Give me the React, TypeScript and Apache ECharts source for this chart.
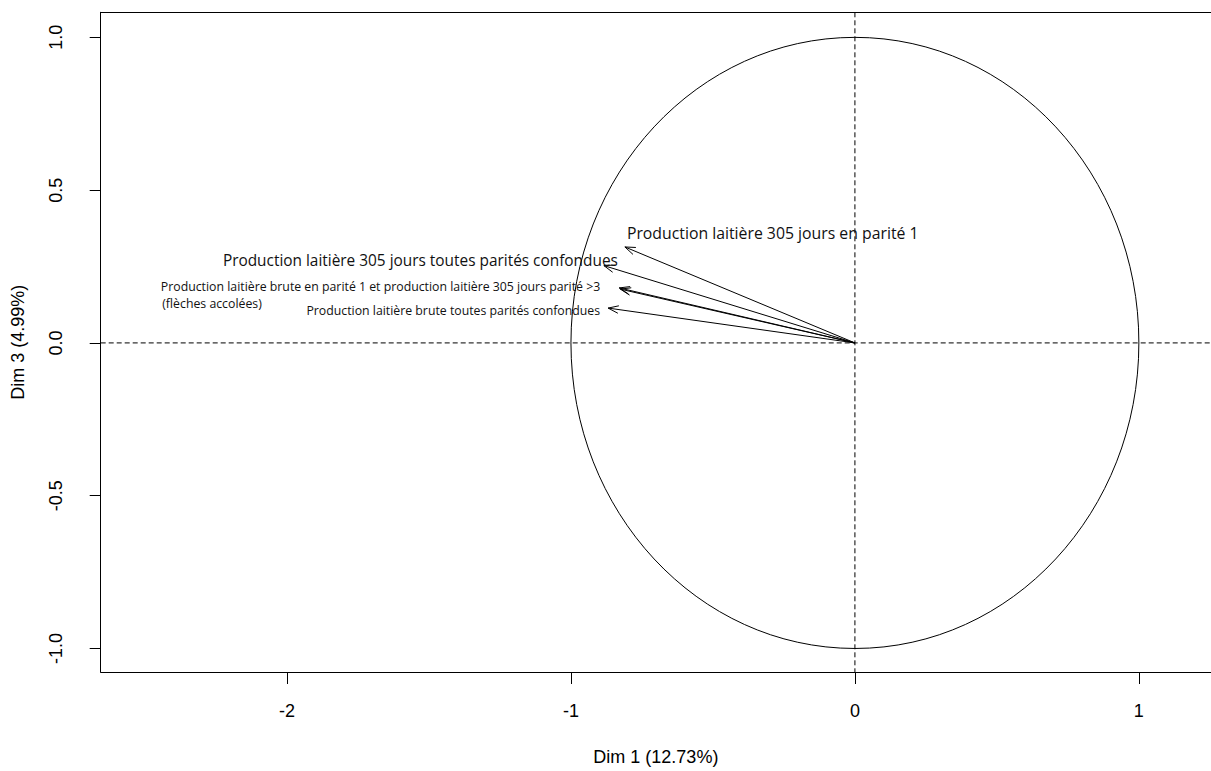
import React, { useEffect, useRef } from "react";
import * as echarts from "echarts";

// ---- data ----
const xTicks = [-2, -1, 0, 1];
const yTicks = [-1, -0.5, 0, 0.5, 1];
const xRange = [-2.656, 1.254];
const yRange = [-1.077, 1.082];

const arrowNames = [
  "Production laitière 305 jours en parité 1",
  "Production laitière 305 jours toutes parités confondues",
  "Production laitière brute en parité 1",
  "Production laitière 305 jours parité >3",
  "Production laitière brute toutes parités confondues",
];
const dim1 = [-0.81, -0.884, -0.83, -0.826, -0.869];
const dim3 = [0.314, 0.253, 0.18, 0.176, 0.114];

const labelTexts = [
  "Production laitière 305 jours en parité 1",
  "Production laitière 305 jours toutes parités confondues",
  "Production laitière brute en parité 1 et production laitière 305 jours parité >3",
  "(flèches accolées)",
  "Production laitière brute toutes parités confondues",
];
const labelArrow = [0, 1, 2, 2, 4];

const xName = "Dim 1 (12.73%)";
const yName = "Dim 3 (4.99%)";

// ---- layout (pixel offsets of labels from arrow tips) ----
const labelLayout = [
  { dx: 2, dy: -14, align: "left", size: 15.8 },
  { dx: 14, dy: -5, align: "right", size: 15.4 },
  { dx: -19, dy: -1, align: "right", size: 12.3 },
  { dx: -457, dy: 16, align: "left", size: 12.3 },
  { dx: -8, dy: 2, align: "right", size: 12.3 },
];

const AXIS_FONT = "'Liberation Sans', Arial, sans-serif";
const LABEL_FONT = "'Open Sans', sans-serif";

export default function App() {
  const ref = useRef<HTMLDivElement>(null);
  useEffect(() => {
    if (!ref.current) return;
    const chart = echarts.init(ref.current, null, { renderer: "svg" });
    const axisCommon = {
      axisLine: { show: true, onZero: false, lineStyle: { color: "#000", width: 1 } },
      splitLine: { show: false },
    };
    const option: any = {
      animation: false,
      backgroundColor: "#fff",
      grid: { left: 100.7, right: 0, top: 12.3, bottom: 98.5, containLabel: false },
      xAxis: [
        {
          type: "value",
          min: xRange[0],
          max: xRange[1],
          position: "bottom",
          ...axisCommon,
          axisTick: { show: true, customValues: xTicks, length: 12, lineStyle: { color: "#000" } },
          axisLabel: {
            customValues: xTicks,
            margin: 30,
            color: "#000",
            fontFamily: AXIS_FONT,
            fontSize: 18,
            formatter: (v: number) => String(v),
          },
          name: xName,
          nameLocation: "middle",
          nameGap: 76,
          nameTextStyle: { color: "#000", fontFamily: AXIS_FONT, fontSize: 18, verticalAlign: "top" },
        },
        {
          type: "value",
          min: xRange[0],
          max: xRange[1],
          position: "top",
          ...axisCommon,
          axisTick: { show: false },
          axisLabel: { show: false },
        },
      ],
      yAxis: {
        type: "value",
        min: yRange[0],
        max: yRange[1],
        position: "left",
        ...axisCommon,
        axisTick: { show: true, customValues: yTicks, length: 11, lineStyle: { color: "#000" } },
        axisLabel: {
          customValues: yTicks,
          rotate: 90,
          margin: 36,
          color: "#000",
          fontFamily: AXIS_FONT,
          fontSize: 18,
          formatter: (v: number) => v.toFixed(1),
        },
        name: yName,
        nameLocation: "middle",
        nameGap: 74,
        nameRotate: 90,
        nameTextStyle: { color: "#000", fontFamily: AXIS_FONT, fontSize: 18 },
      },
      series: [
        {
          type: "custom",
          silent: true,
          clip: false,
          data: [[0, 0]],
          renderItem: (params: any, api: any) => {
            const c = api.coord([api.value(0), api.value(1)]);
            const s = api.size([1, 1]);
            const cs = params.coordSys;
            const dash = { stroke: "#000", lineWidth: 1, lineDash: [5, 3], fill: "none" };
            return {
              type: "group",
              children: [
                {
                  type: "ellipse",
                  shape: { cx: c[0], cy: c[1], rx: s[0], ry: s[1] },
                  style: { stroke: "#000", lineWidth: 1, fill: "none" },
                },
                {
                  type: "line",
                  shape: { x1: c[0], y1: cs.y, x2: c[0], y2: cs.y + cs.height },
                  style: dash,
                },
                {
                  type: "line",
                  shape: { x1: cs.x, y1: c[1], x2: cs.x + cs.width, y2: c[1] },
                  style: dash,
                },
              ],
            };
          },
        },
        {
          type: "custom",
          name: "arrows",
          silent: true,
          clip: false,
          data: dim1.map((x, i) => ({ value: [x, dim3[i]], name: arrowNames[i] })),
          renderItem: (params: any, api: any) => {
            const o = api.coord([0, 0]);
            const t = api.coord([api.value(0), api.value(1)]);
            const th = Math.atan2(t[1] - o[1], t[0] - o[0]);
            const L = 11;
            const a = (20 * Math.PI) / 180;
            const p1 = [t[0] - L * Math.cos(th - a), t[1] - L * Math.sin(th - a)];
            const p2 = [t[0] - L * Math.cos(th + a), t[1] - L * Math.sin(th + a)];
            return {
              type: "group",
              children: [
                {
                  type: "line",
                  shape: { x1: o[0], y1: o[1], x2: t[0], y2: t[1] },
                  style: { stroke: "#000", lineWidth: 1 },
                },
                {
                  type: "polyline",
                  shape: { points: [p1, t, p2] },
                  style: { stroke: "#000", lineWidth: 1, fill: "none" },
                },
              ],
            };
          },
        },
        {
          type: "custom",
          name: "labels",
          silent: true,
          clip: false,
          data: labelArrow.map((ai, i) => ({ value: [dim1[ai], dim3[ai], i], name: labelTexts[i] })),
          renderItem: (params: any, api: any) => {
            const i = api.value(2);
            const t = api.coord([api.value(0), api.value(1)]);
            const lay = labelLayout[i];
            return {
              type: "text",
              x: t[0] + lay.dx,
              y: t[1] + lay.dy,
              style: {
                text: labelTexts[i],
                fill: "#111",
                fontFamily: LABEL_FONT,
                fontSize: lay.size,
                align: lay.align,
                verticalAlign: "middle",
              },
            };
          },
        },
      ],
    };
    chart.setOption(option);
    return () => chart.dispose();
  }, []);
  return (
    <div
      ref={ref}
      style={{ position: "fixed", left: 0, top: 0, width: 1211, height: 771, background: "#fff" }}
    />
  );
}
